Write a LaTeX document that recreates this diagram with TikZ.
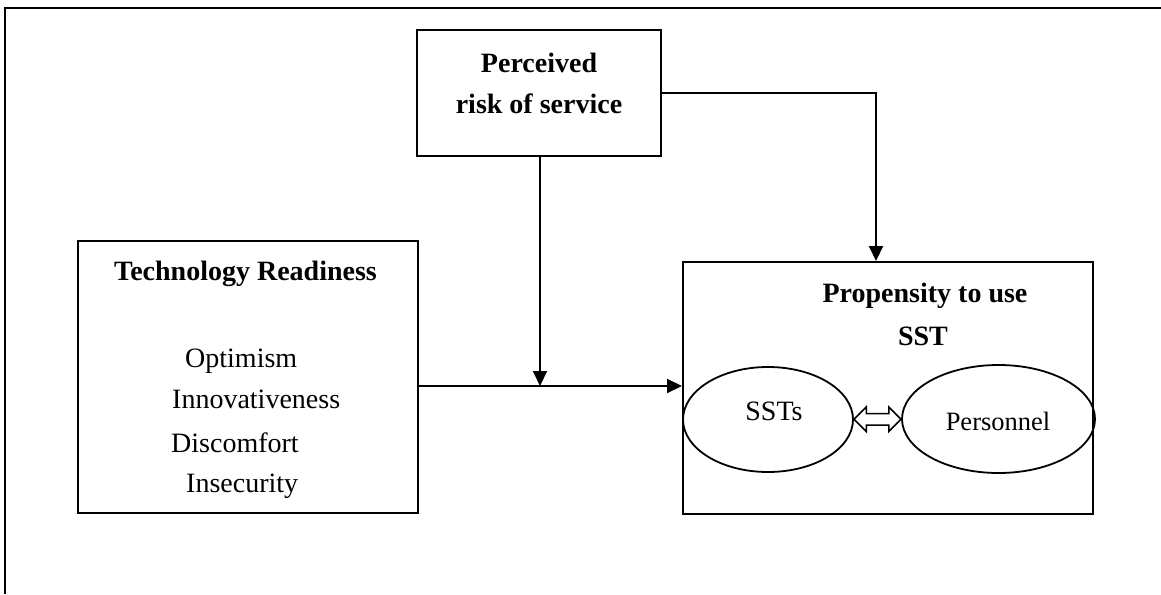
\documentclass[tikz,border=0pt]{standalone}
\usepackage{fontspec}
\setmainfont{Liberation Serif}
\usetikzlibrary{arrows.meta,shapes.geometric,shapes.arrows,calc}
\begin{document}
\begin{tikzpicture}[x=1pt,y=-1pt,
  box/.style={draw, line width=2pt, inner sep=0pt, rectangle},
  ell/.style={draw, ellipse, line width=1.8pt, inner sep=0pt},
  conn/.style={line width=2pt, -{Triangle[length=15pt,width=14pt]}},
  bold/.style={font=\bfseries\fontsize{28}{34}\selectfont, inner sep=0pt, anchor=base},
  reg/.style={font=\fontsize{28}{34}\selectfont, inner sep=0pt},
]
\useasboundingbox (0,0) rectangle (1161,594);
% frame
\draw[line width=2pt] (5,594) -- (5,8) -- (1161,8);
% boxes
\node[box, minimum width=244pt, minimum height=126pt] (risk) at (539,93) {};
\node[box, minimum width=340pt, minimum height=272pt] (tr) at (248,377) {};
\node[box, minimum width=410pt, minimum height=252pt] (prop) at (888,388) {};
% texts
\node[bold] (t1) at (539,72) {Perceived};
\node[bold] (t2) at (539,113) {risk of service};
\node[bold] (t3) at (245.5,280) {Technology Readiness};
\node[reg, anchor=base west] (o1) at (185,367) {Optimism};
\node[reg, anchor=base west] (o2) at (172,408) {Innovativeness};
\node[reg, anchor=base west] (o3) at (171,452) {Discomfort};
\node[reg, anchor=base west] (o4) at (186,492) {Insecurity};
\node[bold] (p1) at (925,302) {Propensity to use};
\node[bold] (p2) at (923,345) {SST};
% ellipses
\node[ell, minimum width=170pt, minimum height=105pt] (ssts) at (768,419.5) {};
\node[reg, anchor=base] (sstl) at (774,420) {SSTs};
\node[ell, minimum width=193pt, minimum height=108pt] (pers) at (998.5,419) {};
\node[font=\fontsize{26.5}{32}\selectfont, inner sep=0pt, anchor=base] (persl) at (998,430) {Personnel};
% double arrow
\node[double arrow, draw, line width=1.5pt, fill=white, inner xsep=0pt, inner ysep=5pt,
      minimum height=47pt, double arrow head extend=6.5pt] (da)
      at ($(ssts.east)!0.5!(pers.west)$) {};
% connectors
\coordinate (j) at (540,386);
\draw[conn] (risk.south -| j) -- (j);
\draw[conn] (tr.east |- j) -- (prop.west |- j);
\coordinate (k) at (876,93);
\draw[conn] (risk.east) -- (k) -- (prop.north -| k);
\end{tikzpicture}
\end{document}
